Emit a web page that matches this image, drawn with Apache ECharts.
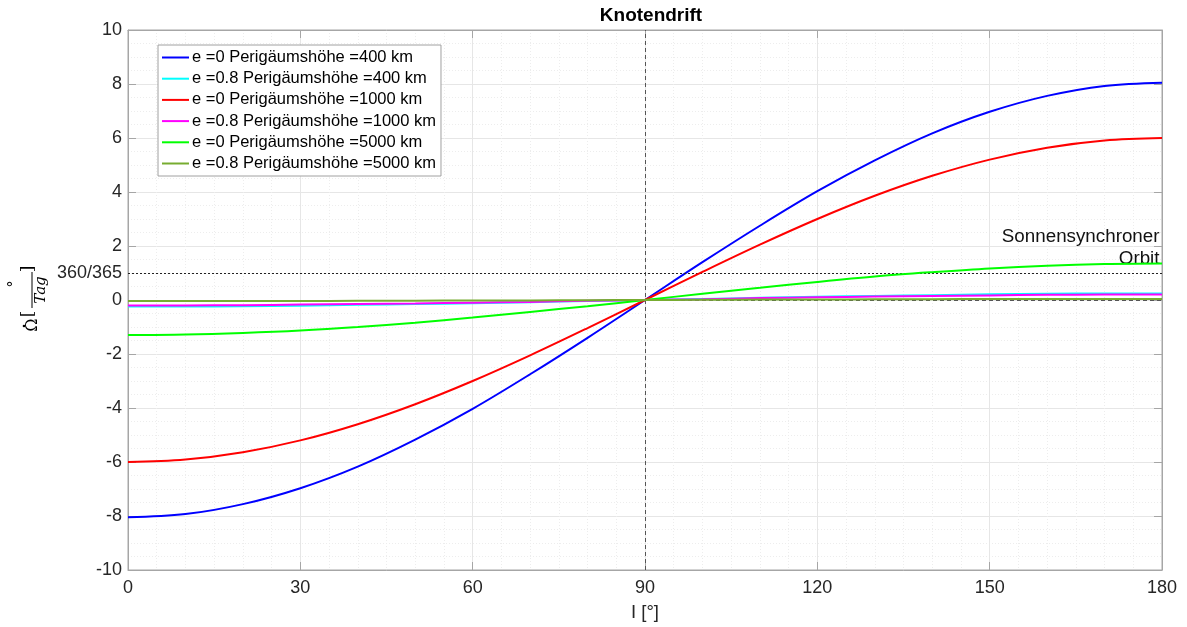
<!DOCTYPE html>
<html>
<head>
<meta charset="utf-8">
<script src="https://cdn.jsdelivr.net/npm/echarts@6/dist/echarts.min.js"></script>
<style>
html,body{margin:0;padding:0;background:#fff;}
#chart{width:1187px;height:627px;}
</style>
</head>
<body>
<div id="chart"></div>
<script>
// ---- data ----
var inclination = [0,10,20,30,40,50,60,70,80,90,100,110,120,130,140,150,160,170,180];
var e0_400   = [-8.05,-7.93,-7.56,-6.97,-6.17,-5.17,-4.03,-2.75,-1.40,0,1.40,2.75,4.03,5.17,6.17,6.97,7.56,7.93,8.05];
var e08_400  = [-0.24,-0.24,-0.23,-0.21,-0.18,-0.15,-0.12,-0.08,-0.04,0,0.04,0.08,0.12,0.15,0.18,0.21,0.23,0.24,0.24];
var e0_1000  = [-6.0,-5.91,-5.64,-5.20,-4.60,-3.86,-3.0,-2.05,-1.04,0,1.04,2.05,3.0,3.86,4.60,5.20,5.64,5.91,6.0];
var e08_1000 = [-0.2,-0.2,-0.19,-0.17,-0.15,-0.13,-0.1,-0.07,-0.03,0,0.03,0.07,0.1,0.13,0.15,0.17,0.19,0.2,0.2];
var e0_5000  = [-1.3,-1.28,-1.22,-1.13,-1.0,-0.84,-0.65,-0.44,-0.23,0,0.23,0.45,0.67,0.87,1.03,1.17,1.27,1.33,1.35];
var e08_5000 = [-0.04,-0.04,-0.04,-0.035,-0.03,-0.025,-0.02,-0.014,-0.007,0,0.007,0.014,0.02,0.025,0.03,0.035,0.04,0.04,0.04];
var seriesNames = [
  'e =0 Perigäumshöhe =400 km',
  'e =0.8 Perigäumshöhe =400 km',
  'e =0 Perigäumshöhe =1000 km',
  'e =0.8 Perigäumshöhe =1000 km',
  'e =0 Perigäumshöhe =5000 km',
  'e =0.8 Perigäumshöhe =5000 km'
];
var seriesValues = [e0_400, e08_400, e0_1000, e08_1000, e0_5000, e08_5000];
var seriesColors = ['#0000ff','#00ffff','#ff0000','#ff00ff','#00ff00','#77ac30'];
var xTicks = {min:0, max:180, interval:30};
var yTicks = {min:-10, max:10, interval:2};
var sunSyncValue = 360/365;
var sunSyncTick = '360/365';
var nodeLineX = 90;
var annot1 = {x:180, y:2.35, text:'Sonnensynchroner'};
var annot2 = {x:180, y:1.53, text:'Orbit'};

var FONT = 'Liberation Sans, Arial, Helvetica, sans-serif';
var TXT = '#262626';
var AXC = '#a6a6a6';

function pairs(v){ return inclination.map(function(x,i){ return [x, v[i]]; }); }

var series = seriesNames.map(function(n, i){
  return {
    name: n, type: 'line', data: pairs(seriesValues[i]),
    smooth: 0.35, symbol: 'none', showSymbol: false,
    lineStyle: {color: seriesColors[i], width: 2},
    itemStyle: {color: seriesColors[i]},
    z: 3 + i, animation: false
  };
});
series[5].markLine = {
  silent: true, symbol: ['none','none'], animation: false,
  data: [
    {xAxis: nodeLineX, lineStyle:{color:'#555', type:[4,3], width:1}, label:{show:false}},
    {yAxis: 0, lineStyle:{color:'#555', type:[4,3], width:1}, label:{show:false}},
    {yAxis: sunSyncValue, lineStyle:{color:'#222', type:[2,2], width:1.2},
     label:{show:true, position:'start', formatter: sunSyncTick, color:TXT, fontSize:18, fontFamily:FONT, distance:6}}
  ]
};
series[5].markPoint = {
  silent: true, animation: false, symbol: 'circle', symbolSize: 1,
  itemStyle: {color: 'rgba(0,0,0,0)'},
  label: {show:true, position:'left', distance:2, color:'#111', fontSize:18.8, fontFamily:FONT},
  data: [
    {coord:[annot1.x, annot1.y], value: annot1.text, label:{formatter: annot1.text}},
    {coord:[annot2.x, annot2.y], value: annot2.text, label:{formatter: annot2.text}}
  ]
};

var chart = echarts.init(document.getElementById('chart'), null, {renderer:'canvas'});
var gridL = 128, gridT = 30, gridR = 25, gridB = 56;
chart.setOption({
  animation: false,
  backgroundColor: '#fff',
  title: {text:'Knotendrift', left:646, textAlign:'center', top:1, textStyle:{fontFamily:FONT, fontSize:19, fontWeight:'bold', color:'#000'}},
  grid: {left:gridL, top:gridT, right:gridR, bottom:gridB, show:true, borderColor:AXC, borderWidth:1, backgroundColor:'#fff'},
  legend: {
    orient:'vertical', left:158, top:45, padding:[4,5,4,4],
    backgroundColor:'#fff', borderColor:'#a0a0a0', borderWidth:1, borderRadius:0,
    itemWidth:27, itemHeight:16, itemGap:4.2,
    icon: 'path://M0,0L27,0L27,2L0,2Z',
    textStyle:{fontFamily:FONT, fontSize:16.5, color:'#000', lineHeight:16, padding:[0,0,0,-2]},
    data: seriesNames
  },
  xAxis: [{
    type:'value', min:xTicks.min, max:xTicks.max, interval:xTicks.interval,
    name:'I [°]', nameLocation:'middle', nameGap:33,
    nameTextStyle:{fontFamily:FONT, fontSize:18.5, color:TXT},
    axisLine:{show:true, onZero:false, lineStyle:{color:AXC}},
    axisTick:{show:true, inside:true, length:8, lineStyle:{color:AXC}},
    axisLabel:{fontFamily:FONT, fontSize:18, color:TXT, margin:9},
    splitLine:{show:true, lineStyle:{color:'#e6e6e6', width:1}},
    minorTick:{show:false, splitNumber:6},
    minorSplitLine:{show:true, lineStyle:{color:'#ededed', type:[1,2], width:1}}
  },{
    type:'value', position:'top', min:xTicks.min, max:xTicks.max, interval:xTicks.interval,
    axisLine:{show:true, onZero:false, lineStyle:{color:AXC}},
    axisTick:{show:true, inside:true, length:8, lineStyle:{color:AXC}},
    axisLabel:{show:false}, splitLine:{show:false}
  }],
  yAxis: [{
    type:'value', min:yTicks.min, max:yTicks.max, interval:yTicks.interval,
    axisLine:{show:true, onZero:false, lineStyle:{color:AXC}},
    axisTick:{show:true, inside:true, length:8, lineStyle:{color:AXC}},
    axisLabel:{fontFamily:FONT, fontSize:18, color:TXT, margin:6},
    splitLine:{show:true, lineStyle:{color:'#e6e6e6', width:1}},
    minorTick:{show:false, splitNumber:4},
    minorSplitLine:{show:true, lineStyle:{color:'#ededed', type:[1,2], width:1}}
  },{
    type:'value', position:'right', min:yTicks.min, max:yTicks.max, interval:yTicks.interval,
    axisLine:{show:true, onZero:false, lineStyle:{color:AXC}},
    axisTick:{show:true, inside:true, length:8, lineStyle:{color:AXC}},
    axisLabel:{show:false}, splitLine:{show:false}
  }],
  graphic: [{
    type:'group', x:32, y:290, rotation: Math.PI/2,
    children: [
      {type:'text', x:-35, y:1, style:{text:'Ω', font:'16px "DejaVu Serif", serif', fill:'#000', align:'center', verticalAlign:'middle'}},
      {type:'circle', shape:{cx:-36, cy:-8, r:1.3}, style:{fill:'#000'}},
      {type:'text', x:-24, y:-3, style:{text:'[', font:'17px "DejaVu Serif", serif', fill:'#000', align:'center', verticalAlign:'middle'}},
      {type:'line', shape:{x1:-18, y1:0, x2:18, y2:0}, style:{stroke:'#000', lineWidth:1}},
      {type:'text', x:6, y:-18, style:{text:'°', font:'14px "DejaVu Serif", serif', fill:'#000', align:'center', verticalAlign:'middle'}},
      {type:'text', x:0, y:2, style:{text:'Tag', font:'italic 15px "DejaVu Serif", serif', fill:'#000', align:'center', verticalAlign:'top'}},
      {type:'text', x:21, y:-3, style:{text:']', font:'17px "DejaVu Serif", serif', fill:'#000', align:'center', verticalAlign:'middle'}}
    ]
  }],
  series: series
});
</script>
</body>
</html>
